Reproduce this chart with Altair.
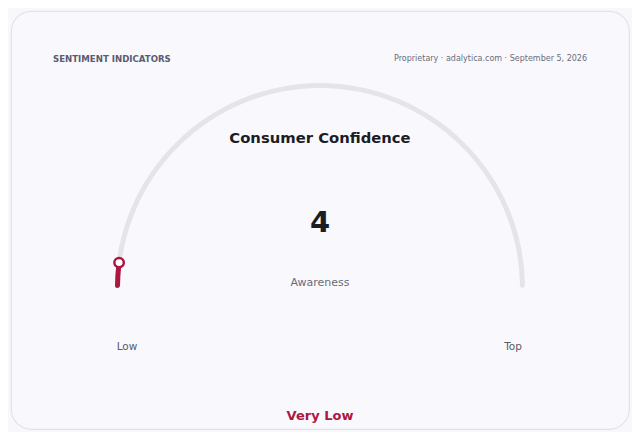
import math
import altair as alt
import pandas as pd

# ---- data ----
gauge_min = [0]
gauge_max = [100]
gauge_value = [4]
header_left = ["SENTIMENT INDICATORS"]
header_right = ["Proprietary · adalytica.com · September 5, 2026"]
title_text = ["Consumer Confidence"]
metric_label = ["Awareness"]
end_labels = ["Low", "Top"]
status_text = ["Very Low"]

# ---- layout / style ----
W, H = 618, 418
CX, CY = 309, 277
R_OUT, R_IN = 205, 200
R_MID = (R_OUT + R_IN) / 2
RED = "#ad1640"
TRACK = "#e4e4eb"
FONT = "DejaVu Sans"

theta_scale = alt.Scale(domain=[gauge_min[0], gauge_max[0]], range=[-math.pi / 2, math.pi / 2])

track_df = pd.DataFrame({"start": gauge_min, "end": gauge_max})
prog_df = pd.DataFrame({"start": gauge_min, "end": gauge_value})

track = alt.Chart(track_df).mark_arc(
    radius=R_OUT, radius2=R_IN, cornerRadius=2.5, color=TRACK, x=CX, y=CY
).encode(
    theta=alt.Theta("start:Q", scale=theta_scale, stack=None),
    theta2="end:Q",
)

progress = alt.Chart(prog_df).mark_arc(
    radius=R_OUT, radius2=R_IN, cornerRadius=2.5, color=RED, x=CX, y=CY
).encode(
    theta=alt.Theta("start:Q", scale=theta_scale, stack=None),
    theta2="end:Q",
)

lo, hi = gauge_min[0], gauge_max[0]
marker = alt.Chart(pd.DataFrame({"v": gauge_value})).transform_calculate(
    ang=f"-PI/2 + (datum.v - {lo}) / ({hi} - {lo}) * PI"
).transform_calculate(
    px=f"{CX} + {R_MID} * sin(datum.ang)",
    py=f"{CY} - {R_MID} * cos(datum.ang)",
).mark_point(
    shape="circle", size=90, filled=True, fill="#ffffff", stroke=RED, strokeWidth=2.5, opacity=1
).encode(
    x=alt.X("px:Q", scale=None, axis=None),
    y=alt.Y("py:Q", scale=None, axis=None),
)


def txt(values, x, y, size, color, weight="normal", align="center"):
    return alt.Chart(pd.DataFrame({"t": values})).mark_text(
        x=x, y=y, fontSize=size, color=color, fontWeight=weight, align=align,
        baseline="middle", font=FONT,
    ).encode(text="t:N")


layers = [
    track,
    progress,
    marker,
    txt(header_left, 42, 48, 8.6, "#5b5b72", "bold", "left"),
    txt(header_right, 576, 48, 8, "#6b6b7b", "normal", "right"),
    txt(title_text, 309, 127.5, 14.8, "#1c1c24", "bold"),
    txt([str(gauge_value[0])], 309, 211.5, 29, "#1c1c24", "bold"),
    txt(metric_label, 309, 272, 11, "#6a6a78"),
    txt([end_labels[0]], 116, 336, 10.5, "#5a5a66"),
    txt([end_labels[1]], 502, 336, 10.5, "#5a5a66"),
    txt(status_text, 309, 404.5, 13, RED, "bold"),
]

chart = alt.layer(*layers).properties(
    width=W, height=H,
    autosize=alt.AutoSizeParams(type="none"),
    padding={"left": 3, "top": 3, "right": 3, "bottom": 3},
    background="#f8f8fc",
).configure_view(
    fill="#f9f9fd", stroke="#e2e2ec", strokeWidth=1.2, cornerRadius=20,
)

chart.save("out.html", embed_options={"renderer": "svg", "actions": False})
